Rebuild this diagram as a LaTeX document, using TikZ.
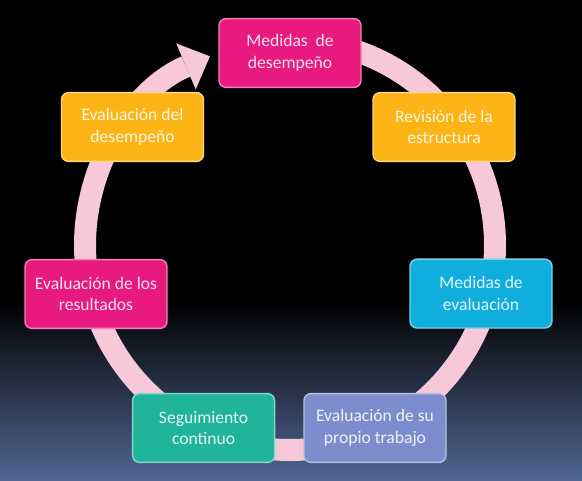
\documentclass[tikz,border=0pt]{standalone}
\usepackage{fontspec}
\setmainfont{Carlito}
\usepackage{tikz}
\usetikzlibrary{arrows.meta,positioning}
\tikzset{every node/.append style={align=center}}
\definecolor{stagepink}{RGB}{232,25,127}
\definecolor{stagegold}{RGB}{252,180,22}
\definecolor{stagecyan}{RGB}{16,174,220}
\definecolor{stageblue}{RGB}{124,140,204}
\definecolor{stageteal}{RGB}{32,181,155}
\definecolor{ringcolor}{RGB}{246,200,216}
\definecolor{bgbottom}{RGB}{80,102,146}

\begin{document}
\begin{tikzpicture}[
    stagebox/.style={draw=#1!55!white, fill=#1, text=white!88!#1, rounded corners=5pt, line width=1pt, minimum width=3.55cm, minimum height=1.72cm, font=\fontsize{12.5}{15.5}\selectfont},
    ring/.style={draw=ringcolor, line width=0.55cm, -{Triangle[width=1.25cm, length=0.65cm, line width=0pt]}}
]
    % Background
    \useasboundingbox (0,0) rectangle (14.55,12);
    \fill[black] (0,4.5) rectangle (14.55,12);
    \shade[top color=black, bottom color=bgbottom] (0,0) rectangle (14.55,4.5);

    % Cycle ring
    \coordinate (hub) at (7.25,5.875);
    \draw[ring] (hub) ++(90:5.125) arc[start angle=90, end angle=-247, radius=5.125];

    % Stages
    \node[stagebox=stagepink] (desempeno) at (7.25,10.675) {Medidas~ de\\desempeño};
    \node[stagebox=stagegold] (estructura) at (11.1,8.825) {Revisión de la\\estructura};
    \node[stagebox=stagecyan] (evaluacion) at (12.025,4.66) {Medidas de\\evaluación};
    \node[stagebox=stageblue] (trabajo) at (9.375,1.3) {Evaluación de su\\propio trabajo};
    \node[stagebox=stageteal, left=0.7cm of trabajo] (seguimiento) {Seguimiento\\continuo};
    \node[stagebox=stagepink] (resultados) at (2.4,4.65) {Evaluación de los\\resultados};
    \node[stagebox=stagegold] (evaldesempeno) at (3.3125,8.825) {Evaluación del\\desempeño};
\end{tikzpicture}
\end{document}
